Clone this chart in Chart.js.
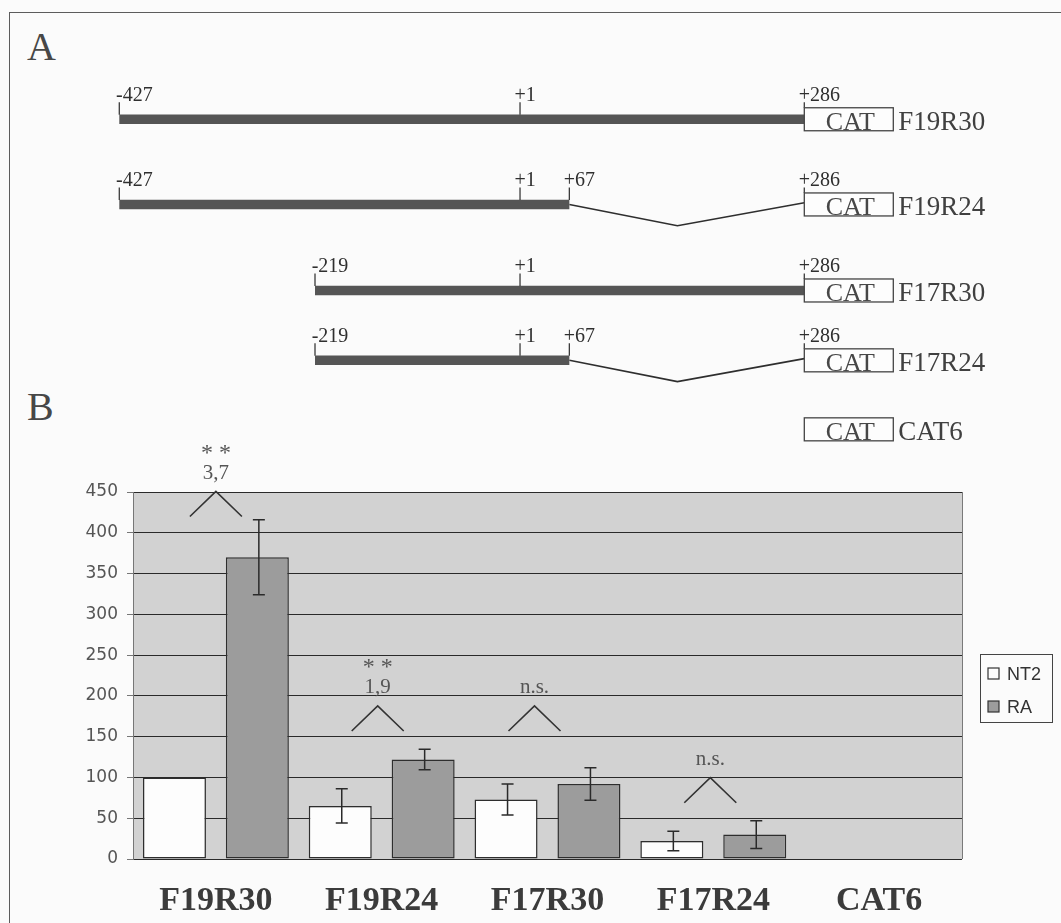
<!DOCTYPE html>
<html>
<head>
<meta charset="utf-8">
<script src="https://cdn.jsdelivr.net/npm/chart.js@4.4.1/dist/chart.umd.min.js"></script>
<style>
  html, body { margin: 0; padding: 0; background: #fbfbfb; width: 1061px; height: 923px; overflow: hidden; }
  #frame { position: absolute; left: 9px; top: 12px; width: 1080px; height: 940px;
           border-left: 1.5px solid #5c5c5c; border-top: 1.5px solid #5c5c5c; }
  .panel { position: absolute; left: 27px; font-family: "Liberation Serif", "Times New Roman", serif;
           font-size: 40px; line-height: 40px; color: #474747; }
  canvas { position: absolute; left: 0; }
  #mapCanvas { top: 0; }
  #barCanvas { top: 430px; }
</style>
</head>
<body>
<div id="frame"></div>
<div class="panel" style="top:27px">A</div>
<div class="panel" style="top:387px">B</div>
<canvas id="mapCanvas" width="1061" height="460" style="width:1061px;height:460px"></canvas>
<canvas id="barCanvas" width="1061" height="493" style="width:1061px;height:493px"></canvas>
<script>
// ---- Panel A: reporter constructs (positions in bp relative to +1) ----
const constructs   = ['F19R30', 'F19R24', 'F17R30', 'F17R24', 'CAT6'];
const segStart     = [-427, -427, -219, -219, null];
const segEnd       = [286, 67, 286, 67, null];
const deletionEnd  = [null, 286, null, 286, null];
const siteMarks    = [[-427, 1, 286], [-427, 1, 67, 286], [-219, 1, 286], [-219, 1, 67, 286], []];
const reporterStart = 286;

// ---- Panel B: relative CAT activity ----
const categories = ['F19R30', 'F19R24', 'F17R30', 'F17R24', 'CAT6'];
const nt2Values  = [100, 65, 73, 22, 0];
const nt2Errors  = [0, 21, 19, 12, 0];
const raValues   = [370, 122, 92, 30, 0];
const raErrors   = [46, 12.5, 20, 17, 0];
const foldLabels = ['3,7', '1,9', 'n.s.', 'n.s.', ''];
const starLabels = ['* *', '* *', '', '', ''];
const bracketBase = [420, 157, 157, 69, null];
const yMin = 0, yMax = 450, yStep = 50;

// ---- layout (drawing only) ----
const schematicKnots = [-427, -219, 1, 67, 286];
const schematicFracs = [0, 0.2857, 0.585, 0.657, 1];
const rowPos = [0, 1, 2.01, 2.83, 3.64];
const spliceApex = 0.46;
const spliceDip = 0.25;
const bracketShift = [0, -4, -13, -3, 0];

const SERIF = '"Liberation Serif", "Times New Roman", serif';

// Schematic (not-to-scale) axis: piecewise linear between landmark positions
class SchematicScale extends Chart.LinearScale {
  getPixelForValue(v) {
    const k = schematicKnots, f = schematicFracs;
    let i = 0;
    while (i < k.length - 2 && v > k[i + 1]) i++;
    const t = f[i] + (v - k[i]) / (k[i + 1] - k[i]) * (f[i + 1] - f[i]);
    return this.left + t * this.width;
  }
}
SchematicScale.id = 'schematic';
SchematicScale.defaults = Chart.LinearScale.defaults;
Chart.register(SchematicScale);

const mapDatasets = [];
constructs.forEach((name, i) => {
  if (segStart[i] === null) return;
  mapDatasets.push({
    label: name,
    data: [{ x: segStart[i], y: rowPos[i] }, { x: segEnd[i], y: rowPos[i] }],
    borderColor: '#555555', borderWidth: 9.5, borderCapStyle: 'butt',
    pointRadius: 0, showLine: true, clip: false
  });
  if (deletionEnd[i] !== null) {
    const apex = segEnd[i] + spliceApex * (deletionEnd[i] - segEnd[i]);
    mapDatasets.push({
      label: name + ' deletion',
      data: [{ x: segEnd[i], y: rowPos[i] }, { x: apex, y: rowPos[i] + spliceDip }, { x: deletionEnd[i], y: rowPos[i] - 0.02 }],
      borderColor: '#2e2e2e', borderWidth: 1.6, pointRadius: 0, showLine: true, clip: false
    });
  }
});

const mapPlugin = {
  id: 'constructMap',
  afterDatasetsDraw(chart) {
    const { ctx, scales: { x, y } } = chart;
    ctx.save();
    constructs.forEach((name, i) => {
      const cy = y.getPixelForValue(rowPos[i]);
      ctx.strokeStyle = '#3a3a3a';
      ctx.lineWidth = 1.3;
      ctx.font = '20px ' + SERIF;
      ctx.fillStyle = '#2f2f2f';
      ctx.textBaseline = 'alphabetic';
      ctx.textAlign = 'left';
      siteMarks[i].forEach(bp => {
        const px = x.getPixelForValue(bp);
        const bottom = bp === reporterStart ? cy - 11.5 : cy - 4.5;
        ctx.beginPath();
        ctx.moveTo(px, cy - 17);
        ctx.lineTo(px, bottom);
        ctx.stroke();
        const txt = bp > 0 ? '+' + bp : String(bp);
        const signW = ctx.measureText(txt[0]).width;
        ctx.fillText(txt, px - signW / 2, cy - 18);
      });
      // CAT reporter box
      const bx = x.getPixelForValue(reporterStart);
      ctx.fillStyle = '#fdfdfd';
      ctx.fillRect(bx, cy - 11.5, 89, 23);
      ctx.strokeStyle = '#444';
      ctx.lineWidth = 1.3;
      ctx.strokeRect(bx, cy - 11.5, 89, 23);
      ctx.fillStyle = '#474747';
      ctx.font = '26px ' + SERIF;
      ctx.textAlign = 'center';
      ctx.fillText('CAT', bx + 46, cy + 10.5);
      ctx.textAlign = 'left';
      ctx.font = '27px ' + SERIF;
      ctx.fillStyle = '#404040';
      ctx.fillText(name, bx + 94, cy + 11);
    });
    ctx.restore();
  }
};

new Chart(document.getElementById('mapCanvas'), {
  type: 'scatter',
  data: { datasets: mapDatasets },
  options: {
    responsive: false, animation: false, devicePixelRatio: 1,
    layout: { padding: { left: 119.3, right: 1061 - 804.3, top: 0, bottom: 0 } },
    scales: {
      x: { type: 'schematic', min: -427, max: 286, display: false },
      y: { type: 'linear', min: -1.4, max: 4.0, reverse: true, display: false }
    },
    plugins: { legend: { display: false }, tooltip: { enabled: false } }
  },
  plugins: [mapPlugin]
});

// ---- Panel B chart ----
const barPlugin = {
  id: 'barExtras',
  beforeDraw(chart) {
    const { ctx, chartArea: a } = chart;
    ctx.save();
    ctx.fillStyle = '#d2d2d2';
    ctx.fillRect(a.left, a.top, a.right - a.left, a.bottom - a.top);
    ctx.restore();
  },
  afterDatasetsDraw(chart) {
    const { ctx, chartArea: a, scales: { x, y } } = chart;
    ctx.save();
    // plot frame (right side)
    ctx.strokeStyle = '#7a7a7a';
    ctx.lineWidth = 1;
    ctx.beginPath();
    ctx.moveTo(a.right + 0.5, a.top);
    ctx.lineTo(a.right + 0.5, a.bottom);
    ctx.stroke();

    // error bars
    const errs = [nt2Errors, raErrors];
    chart.data.datasets.forEach((ds, di) => {
      const meta = chart.getDatasetMeta(di);
      meta.data.forEach((bar, i) => {
        const e = errs[di][i];
        if (!e) return;
        const v = ds.data[i];
        const yt = y.getPixelForValue(v + e), yb = y.getPixelForValue(v - e);
        const bx = bar.x + 1.5;
        ctx.strokeStyle = '#2a2a2a';
        ctx.lineWidth = 1.5;
        ctx.beginPath();
        ctx.moveTo(bx, yt); ctx.lineTo(bx, yb);
        ctx.moveTo(bx - 6, yt); ctx.lineTo(bx + 6, yt);
        ctx.moveTo(bx - 6, yb); ctx.lineTo(bx + 6, yb);
        ctx.stroke();
      });
    });

    // significance brackets
    categories.forEach((c, i) => {
      if (bracketBase[i] === null) return;
      const cx = x.getPixelForValue(i) + bracketShift[i];
      const by = y.getPixelForValue(bracketBase[i]);
      const ay = by - 25;
      ctx.strokeStyle = '#333';
      ctx.lineWidth = 1.6;
      ctx.beginPath();
      ctx.moveTo(cx - 26, by); ctx.lineTo(cx, ay); ctx.lineTo(cx + 26, by);
      ctx.stroke();
      ctx.fillStyle = '#555';
      ctx.textAlign = 'center';
      ctx.textBaseline = 'middle';
      ctx.font = '21px ' + SERIF;
      if (foldLabels[i]) ctx.fillText(foldLabels[i], cx, ay - 18);
      if (starLabels[i]) {
        ctx.font = '24px ' + SERIF;
        ctx.fillText(starLabels[i], cx, ay - 38);
      }
    });

    // legend
    const lx = a.right + 18, ly = a.top + 162;
    ctx.fillStyle = '#fbfbfb';
    ctx.fillRect(lx, ly, 72, 68);
    ctx.strokeStyle = '#444';
    ctx.lineWidth = 1;
    ctx.strokeRect(lx + 0.5, ly + 0.5, 72, 68);
    ctx.font = '18px "Liberation Sans", Arial, sans-serif';
    ctx.textAlign = 'left';
    ctx.textBaseline = 'alphabetic';
    chart.data.datasets.forEach((ds, di) => {
      const my = ly + 14 + di * 33;
      ctx.fillStyle = ds.backgroundColor;
      ctx.fillRect(lx + 8, my, 11, 11);
      ctx.strokeStyle = '#333';
      ctx.lineWidth = 1.2;
      ctx.strokeRect(lx + 8, my, 11, 11);
      ctx.fillStyle = '#333';
      ctx.fillText(ds.label, lx + 27, my + 11.5);
    });
    ctx.restore();
  }
};

new Chart(document.getElementById('barCanvas'), {
  type: 'bar',
  data: {
    labels: categories,
    datasets: [
      { label: 'NT2', data: nt2Values, backgroundColor: '#fdfdfd', borderColor: '#2e2e2e', borderWidth: 1.5, borderSkipped: false },
      { label: 'RA', data: raValues, backgroundColor: '#9c9c9c', borderColor: '#2e2e2e', borderWidth: 1.5, borderSkipped: false }
    ]
  },
  options: {
    responsive: false, animation: false, devicePixelRatio: 1,
    layout: { padding: { top: 62, right: 99, bottom: 0, left: 0 } },
    datasets: { bar: { categoryPercentage: 1.0, barPercentage: 0.76 } },
    scales: {
      x: {
        grid: { display: false },
        border: { display: false },
        ticks: { font: { family: SERIF, size: 34, weight: 'bold' }, color: '#3b3b3b', padding: 14 },
        afterFit(s) { s.height = 64; }
      },
      y: {
        min: yMin, max: yMax,
        ticks: { stepSize: yStep, font: { family: '"DejaVu Sans", sans-serif', size: 17 }, color: '#555', padding: 9 },
        grid: { color: '#2a2a2a', lineWidth: 1, tickLength: 6, tickColor: '#777' },
        border: { display: true, color: '#777', width: 1 },
        afterFit(s) { s.width = 133; }
      }
    },
    plugins: { legend: { display: false }, tooltip: { enabled: false } }
  },
  plugins: [barPlugin]
});
</script>
</body>
</html>
